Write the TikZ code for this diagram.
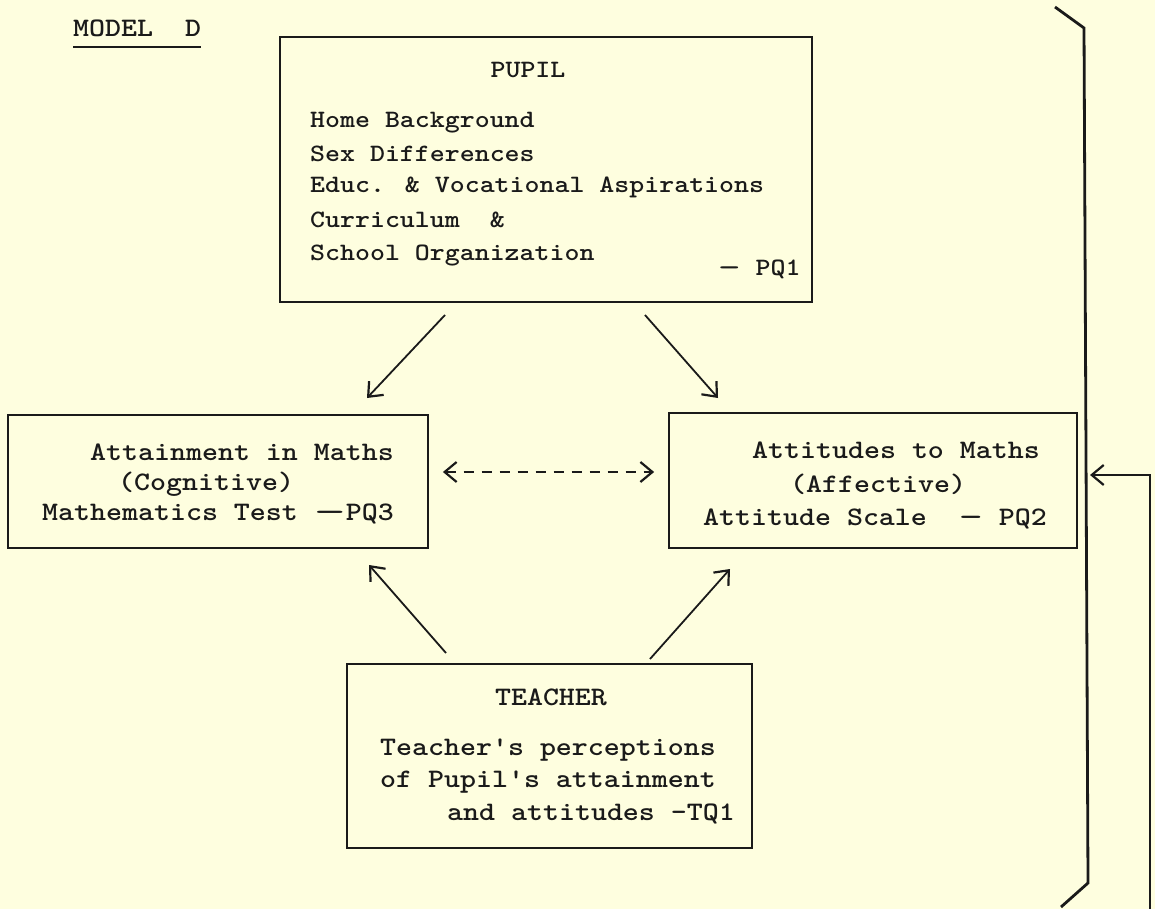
\documentclass[tikz,border=0pt]{standalone}
\usepackage{fontspec}
\usepackage{graphicx}
\usetikzlibrary{arrows.meta}
\definecolor{paper}{HTML}{FEFEDF}
\definecolor{ink}{HTML}{1A1A1A}
% typewriter lines, widened to Courier proportions
\newcommand\tw[1]{\scalebox{1.14}[1]{#1}}
\newcommand\tdash[1]{\scalebox{#1}[1]{—}}

\begin{document}
\begin{tikzpicture}[x=1pt,y=-1pt,
  every node/.style={inner sep=0pt, text=ink},
  boxframe/.style={draw=ink, line width=1.8pt, inner sep=0pt},
  big/.style={font=\fontsize{26.7}{30}\selectfont\ttfamily\bfseries},
  small/.style={font=\fontsize{25}{30}\selectfont\ttfamily\bfseries},
  txt/.style={anchor=base west},
  barb/.style={-{Straight Barb[length=12pt,width=20pt,line width=2.2pt]}},
  link/.style={draw=ink, line width=1.8pt, barb},
  dlink/.style={draw=ink, line width=1.8pt, dash pattern=on 10pt off 8pt,
    {Straight Barb[length=12pt,width=20pt,line width=2.2pt]}-{Straight Barb[length=12pt,width=20pt,line width=2.2pt]}}]

\fill[paper] (0,0) rectangle (1155,909);
\useasboundingbox (0,0) rectangle (1155,909);

% title
\node[big, txt] (title) at (73,37) {\tw{MODEL~~D}};
\draw[ink, line width=1.8pt] ([yshift=-10pt]title.base west) -- ([yshift=-10pt]title.base east);

% boxes
\node[boxframe, minimum width=532pt, minimum height=265pt] (pupil) at (546,169.5) {};
\node[boxframe, minimum width=420pt, minimum height=133pt] (attain) at (218,481.5) {};
\node[boxframe, minimum width=408pt, minimum height=135pt] (attit) at (873,480.5) {};
\node[boxframe, minimum width=405pt, minimum height=184pt] (teacher) at (549.5,756) {};

% pupil texts
\node[small, anchor=base] (pt) at (528,78) {\tw{PUPIL}};
\node[small, txt] (p1) at (310,128) {\tw{Home Background}};
\node[small, txt] (p2) at (310,162) {\tw{Sex Differences}};
\node[small, txt] (p3) at (310,193) {\tw{Educ. \& Vocational Aspirations}};
\node[small, txt] (p4) at (310,227) {\tw{Curriculum~~\&}};
\node[small, txt] (p5) at (310,260) {\tw{School Organization}};
\node[small, txt] (pq1) at (718,275) {\tw{\tdash{1.5} PQ1}};

% attainment texts
\node[big, txt] (a1) at (90,460) {\tw{Attainment in Maths}};
\node[big, txt] (a2) at (118,490) {\tw{(Cognitive)}};
\node[big, txt] (a3) at (42,520) {\tw{Mathematics Test \tdash{2}PQ3}};

% attitude texts
\node[big, txt] (b1) at (752,458) {\tw{Attitudes to Maths}};
\node[big, txt] (b2) at (790,492) {\tw{(Affective)}};
\node[big, txt] (b3) at (703,525) {\tw{Attitude Scale~~\tdash{1.5} PQ2}};

% teacher texts
\node[big, anchor=base] (tt) at (551,705) {\tw{TEACHER}};
\node[big, txt] (t1) at (380,755) {\tw{Teacher's perceptions}};
\node[big, txt] (t2) at (380,787) {\tw{of Pupil's attainment}};
\node[big, txt] (t3) at (447,820) {\tw{and attitudes \tdash{1}TQ1}};

% arrow ends
\coordinate (pL) at (445,315);
\coordinate (aT) at (367,398);
\coordinate (pR) at (645,315);
\coordinate (bT) at (718,398);
\coordinate (tL) at (446,653);
\coordinate (aB) at (369,565);
\coordinate (tR) at (650,659);
\coordinate (bB) at (730,569);

\draw[link] (pL) -- (aT);
\draw[link] (pR) -- (bT);
\draw[link] (tL) -- (aB);
\draw[link] (tR) -- (bB);
\draw[dlink, shorten <=14pt, shorten >=14pt] (attain.east |- 0,472) -- (attit.west |- 0,472);

% bracket and feedback loop
\coordinate (k1) at (1055,7);
\coordinate (k2) at (1084,28);
\coordinate (k3) at (1088,883);
\coordinate (k4) at (1061,907);
\draw[ink, line width=2.8pt, line join=miter] (k1) -- (k2) -- (k3) -- (k4);
\coordinate (fb0) at (1150,909);
\coordinate (fb1) at (1090,475);
\draw[link] (fb0) |- (fb1);
\end{tikzpicture}
\end{document}
